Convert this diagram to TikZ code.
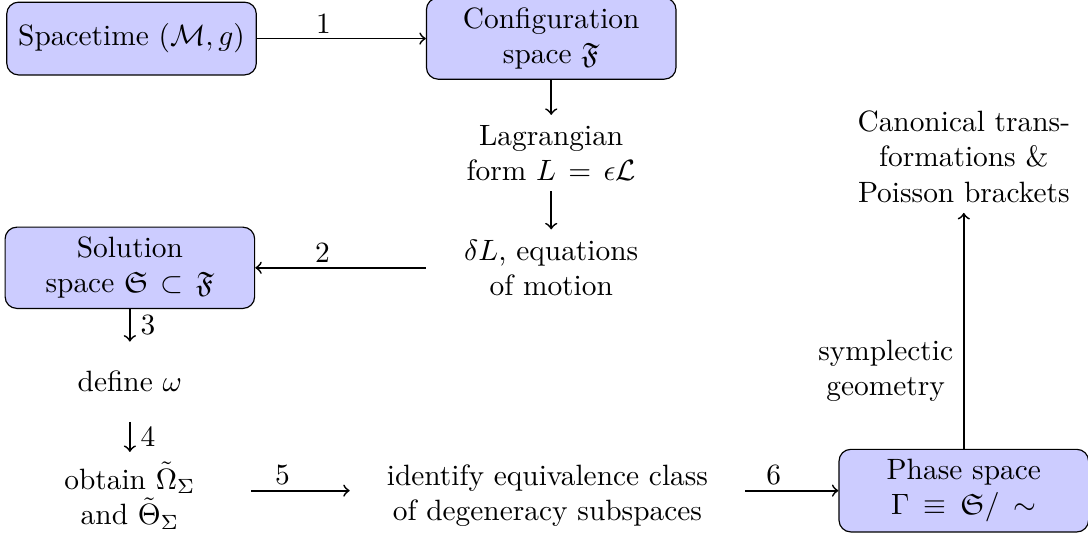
\documentclass[tikz,border=0pt]{standalone}
\usepackage{amsmath}
\usepackage{amssymb}
\usepackage{tikz}
\usetikzlibrary{positioning}
\definecolor{boxblue}{RGB}{204,204,255}

\begin{document}
\begin{tikzpicture}[txt/.style={text width=2.75cm, align=center},
    box/.style={txt, draw, rounded corners, fill=boxblue, minimum height=0.87cm},
    lbl/.style={above left, inner ysep=1.5pt}]
            \useasboundingbox (0,0) rectangle (13.01,-6.41);
            \node[box] (st) at (1.573,-0.461) {Spacetime $(\mathcal{M},g)$};
            \node[box, right=2.02cm of st] (conf) {Configuration space $\mathfrak{F}$};
            \node[txt, below=0.42cm of conf] (lag) {Lagrangian form $L=\epsilon\mathcal{L}$};
            \node[txt, below=0.455cm of lag] (eom) {$\delta L$, equations of motion};
            \node[box, left=2.04cm of eom] (sol) {Solution space $\mathfrak{S}\subset\mathfrak{F}$};
            \node[txt, below=0.39cm of sol, minimum height=0.945cm] (def) {define $\omega$};
            \node[txt, text width=2.65cm, below=0.36cm of def] (obt) {obtain $\tilde{\Omega}_\Sigma$ and $\tilde{\Theta}_\Sigma$};
            \node[txt, text width=4.48cm, right=1.18cm of obt] (idt) {identify equivalence class of degeneracy subspaces};
            \node[box] (phase) at (11.525,-5.867) {Phase space $\Gamma\equiv\mathfrak{S}/\sim$};
            \node[txt, above=2.82cm of phase] (canon) {Canonical transformations \& Poisson brackets};
            \draw[->, semithick] (st) -- node[lbl] {1} (conf);
            \draw[->, semithick] (conf) -- (lag);
            \draw[->, semithick] (lag) -- (eom);
            \draw[->, semithick] (eom) -- node[lbl] {2} (sol);
            \draw[->, semithick] (sol) -- node[right] {3} (def);
            \draw[->, semithick] (def) -- node[right] {4} (obt);
            \draw[->, semithick] (obt.east |- phase) -- node[lbl] {5} (idt.west |- phase);
            \draw[->, semithick] (idt.east |- phase) -- node[lbl] {6} (phase);
            \draw[->, semithick] (phase) -- node[left, pos=0.33, align=center] {symplectic\\geometry} (canon);
        \end{tikzpicture}
\end{document}
